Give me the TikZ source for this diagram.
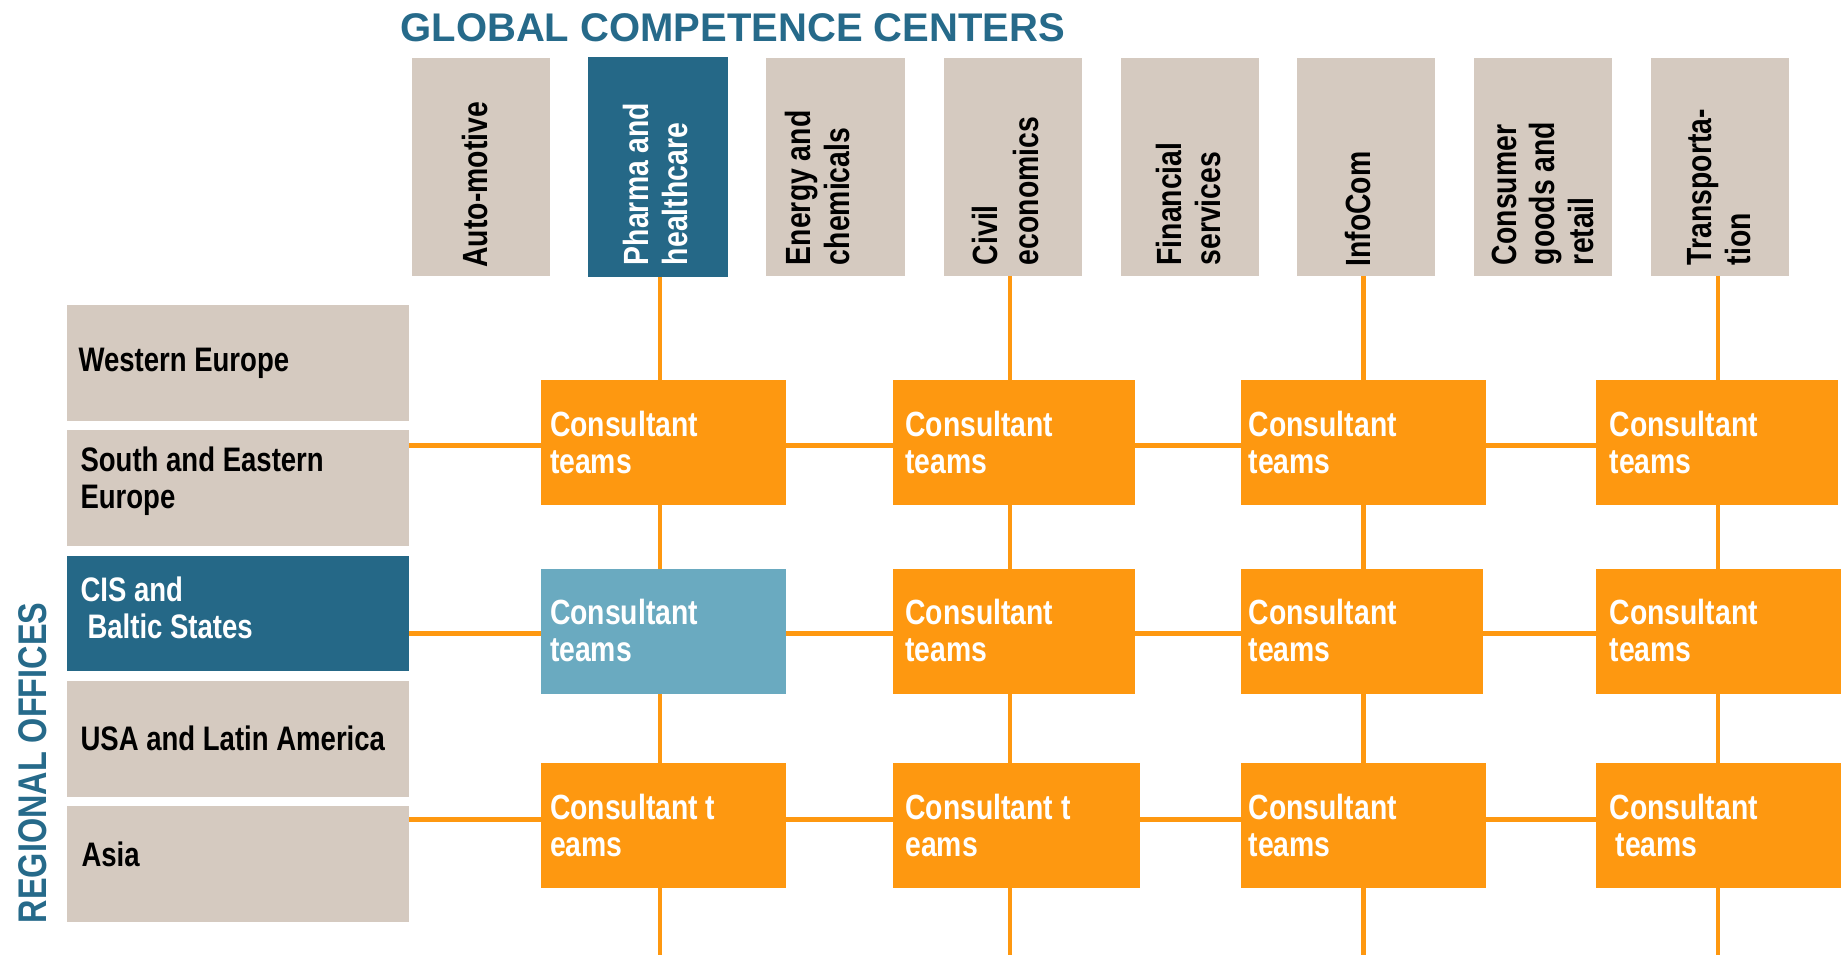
\documentclass[tikz,border=0pt]{standalone}
\usepackage{fontspec}
\setmainfont{Liberation Sans}
\newfontfamily\narrowsans{Liberation Sans}[FakeStretch=0.81]
\usetikzlibrary{backgrounds}
\definecolor{beige}{HTML}{D5CAC0}
\definecolor{deepblue}{HTML}{256887}
\definecolor{paleblue}{HTML}{6AAAC0}
\definecolor{amber}{HTML}{FE9810}
\definecolor{headblue}{HTML}{266A8A}
\begin{document}
\begin{tikzpicture}[x=1pt,y=-1pt,
  every node/.style={inner sep=0pt, outer sep=0pt},
  colbox/.style={fill=beige, minimum width=138pt, minimum height=218pt, anchor=north west},
  regbox/.style={fill=beige, minimum width=342pt, minimum height=115.5pt, anchor=north west},
  teambox/.style={fill=amber, minimum width=244.5pt, minimum height=125.5pt, anchor=north west},
  link/.style={draw=amber, line width=4.5pt},
  % multi-line texts are placed by the baseline of their last line
  coltext/.style={rotate=90, anchor=base west, align=left,
    font=\narrowsans\bfseries\fontsize{35}{38.5}\selectfont},
  regtext/.style={anchor=base west, align=left,
    font=\narrowsans\bfseries\fontsize{34}{36.5}\selectfont},
  teamtext/.style={anchor=base west, align=left, text=white,
    font=\narrowsans\bfseries\fontsize{35}{37}\selectfont},
  heading/.style={text=headblue, font=\bfseries\fontsize{40}{44}\selectfont},
]
\useasboundingbox (0,0) rectangle (1843,955);

% headings
\node[heading, anchor=base west] (title) at (400.5,41.7) {GLOBAL COMPETENCE CENTERS};
\node[rotate=90, anchor=base west, text=headblue,
  font=\narrowsans\bfseries\fontsize{40}{43}\selectfont] (side) at (46.4,923) {REGIONAL OFFICES};

% competence centre columns
\node[colbox] (c1) at (412,58) {};
\node[colbox, fill=deepblue, minimum width=140pt, minimum height=220pt] (c2) at (588.3,57.3) {};
\node[colbox, minimum width=139pt] (c3) at (766,58) {};
\node[colbox] (c4) at (944,58) {};
\node[colbox] (c5) at (1121,58) {};
\node[colbox] (c6) at (1297,58) {};
\node[colbox] (c7) at (1474,58) {};
\node[colbox] (c8) at (1651,58) {};

\node[coltext] (c1t) at (487.3,267.5) {Auto-motive};
\node[coltext, text=white] (c2t) at (687.3,265) {Pharma and\\healthcare};
\node[coltext] (c3t) at (849.3,265) {Energy and\\chemicals};
\node[coltext] (c4t) at (1038.3,265) {Civil\\[2.5pt]economics};
\node[coltext] (c5t) at (1220,265.5) {Financial\\services};
\node[coltext] (c6t) at (1370.7,266.5) {InfoCom};
\node[coltext] (c7t) at (1593.3,265) {Consumer\\goods and\\retail};
\node[coltext] (c8t) at (1750,265) {Transporta-\\tion};

% regional offices
\node[regbox] (r1) at (67,305) {};
\node[regbox] (r2) at (67,430) {};
\node[regbox, fill=deepblue, minimum height=115pt] (r3) at (67,555.5) {};
\node[regbox] (r4) at (67,681) {};
\node[regbox] (r5) at (67,806) {};

\node[regtext] (r1t) at (78.5,371.7) {Western Europe};
\node[regtext] (r2t) at (80.5,508) {South and Eastern\\Europe};
\node[regtext, text=white] (r3t) at (80.5,638.3) {CIS and\\\hspace*{7pt}Baltic States};
\node[regtext] (r4t) at (80.5,750) {USA and Latin America};
\node[regtext] (r5t) at (81.5,866.7) {Asia};

% consultant teams
\node[teambox] (t11) at (541,379.7) {};
\node[teambox, minimum width=242pt] (t12) at (893.3,379.7) {};
\node[teambox] (t13) at (1241.2,379.7) {};
\node[teambox, minimum width=242pt] (t14) at (1596.2,379.7) {};

\node[teambox, fill=paleblue] (t21) at (541,568.9) {};
\node[teambox, minimum width=242pt] (t22) at (893.3,568.9) {};
\node[teambox, minimum width=241.5pt] (t23) at (1241.2,568.9) {};
\node[teambox] (t24) at (1596.2,568.9) {};

\node[teambox] (t31) at (541,762.8) {};
\node[teambox, minimum width=247pt] (t32) at (893.3,762.8) {};
\node[teambox] (t33) at (1241.2,762.8) {};
\node[teambox] (t34) at (1596.2,762.8) {};

\node[teamtext] (t11t) at (550,473) {Consultant\\teams};
\node[teamtext] (t12t) at (905.3,473) {Consultant\\teams};
\node[teamtext] (t13t) at (1248.7,473) {Consultant\\teams};
\node[teamtext] (t14t) at (1609.7,473) {Consultant\\teams};

\node[teamtext] (t21t) at (550,661.5) {Consultant\\teams};
\node[teamtext] (t22t) at (905.3,661.5) {Consultant\\teams};
\node[teamtext] (t23t) at (1248.7,661.5) {Consultant\\teams};
\node[teamtext] (t24t) at (1609.7,661.5) {Consultant\\teams};

\node[teamtext] (t31t) at (550,856) {Consultant t\\eams};
\node[teamtext] (t32t) at (905.3,856) {Consultant t\\eams};
\node[teamtext] (t33t) at (1248.7,856) {Consultant\\teams};
\node[teamtext] (t34t) at (1609.7,856) {Consultant\\\hspace*{6pt}teams};

% grid of connectors behind the boxes
\coordinate (v1) at (660,955);
\coordinate (v2) at (1010,955);
\coordinate (v3) at (1363.5,955);
\coordinate (v4) at (1718,955);
\coordinate (h1) at (0,445.5);
\coordinate (h2) at (0,633.5);
\coordinate (h3) at (0,819.3);
\begin{scope}[on background layer]
  \draw[link] (c2.south -| v1) -- (v1);
  \draw[link] (c4.south -| v2) -- (v2);
  \draw[link] (c6.south -| v3) -- (v3);
  \draw[link] (c8.south -| v4) -- (v4);
  \draw[link] (h1 -| r2.east) -- (h1 -| t14.west);
  \draw[link] (h2 -| r3.east) -- (h2 -| t24.west);
  \draw[link] (h3 -| r5.east) -- (h3 -| t34.west);
\end{scope}
\end{tikzpicture}
\end{document}
